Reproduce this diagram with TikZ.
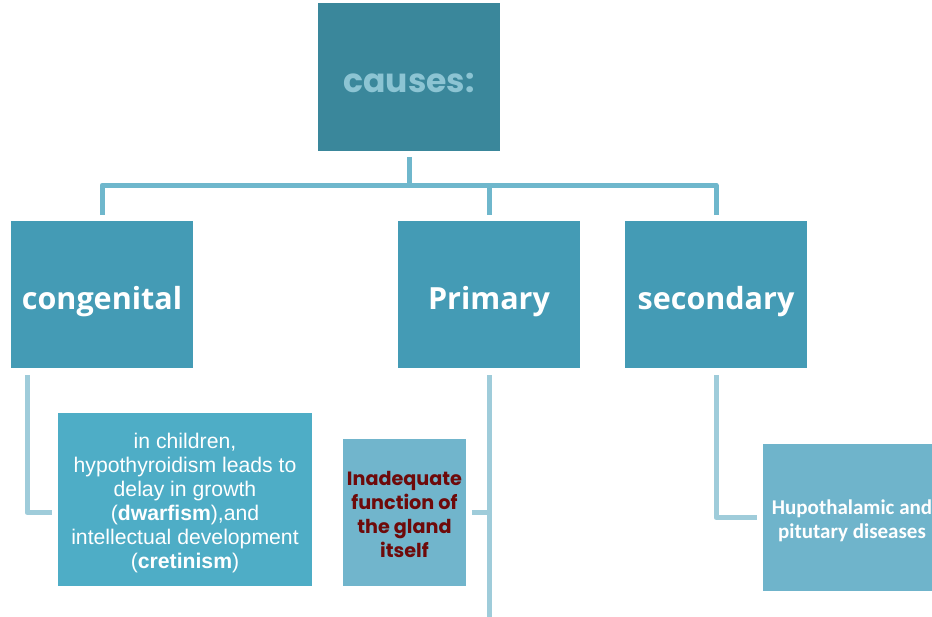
\documentclass[tikz,border=0pt]{standalone}
\usepackage{fontspec}
\setmainfont{Liberation Sans}
\newfontfamily\popf{Poppins}
\newfontfamily\opsf{Open Sans}
\newfontfamily\carf{Carlito}
\definecolor{topc}{HTML}{3A879B}
\definecolor{toptx}{HTML}{8CC4D3}
\definecolor{lvl}{HTML}{449BB5}
\definecolor{conA}{HTML}{6FB7CC}
\definecolor{conB}{HTML}{9FCCDA}
\definecolor{childc}{HTML}{4EADC6}
\definecolor{inadc}{HTML}{71B5CC}
\definecolor{inadtx}{HTML}{6E0A0A}
\definecolor{hupoc}{HTML}{6FB4CB}
\tikzset{
  box/.style={draw=none, inner sep=0pt, align=center},
  lvlbox/.style={box, fill=lvl, minimum width=182pt, minimum height=147pt, text=white, font=\opsf\bfseries\fontsize{30.5}{36}\selectfont, text height=38pt, text depth=8pt},
  conn/.style={draw=conA, line width=5pt, line join=round},
  conn2/.style={draw=conB, line width=5pt, line join=round},
}
\begin{document}
\begin{tikzpicture}[x=1pt,y=-1pt]
\useasboundingbox (0,0) rectangle (932,616);
\clip (0,0) rectangle (932,616);
\node[box, fill=topc, minimum width=182pt, minimum height=148pt, text=toptx, font=\popf\bfseries\fontsize{33}{38}\selectfont, text height=30pt, text depth=0pt] (top) at (409,77) {causes:};
\node[lvlbox] (cong) at (102,294.5) {congenital};
\node[lvlbox] (prim) at (489,294.5) {Primary};
\node[lvlbox] (sec) at (716,294.5) {secondary};
\node[box, fill=childc, minimum width=254pt, minimum height=173pt,
  label={[yshift=-4pt, text=white, align=center, font=\fontsize{21.2}{24}\selectfont]center:in children,\\hypothyroidism leads to\\delay in growth\\(\textbf{dwarfism}),and\\intellectual development\\(\textbf{cretinism})}] (child) at (185,499.5) {};
\node[box, fill=inadc, minimum width=123pt, minimum height=147pt,
  label={[yshift=-2pt, text=inadtx, align=center, font=\popf\bfseries\fontsize{19.2}{24}\selectfont]center:Inadequate\\function of\\the gland\\itself}] (inad) at (404.5,512.5) {};
\node[box, fill=hupoc, minimum width=182pt, minimum height=147pt,
  label={[yshift=-3pt, xshift=-2pt, text=white, align=center, font=\carf\bfseries\fontsize{21}{24}\selectfont]center:Hupothalamic and\\pitutary diseases}] (hupo) at (854,517.5) {};
% top connectors
\draw[conn, shorten <=6pt] (top.south) -- ++(0,34) coordinate (bar);
\draw[conn, shorten >=6pt] (bar) -| (cong.north);
\draw[conn, shorten >=6pt] (bar) -| (sec.north);
\draw[conn, shorten >=6pt] (bar -| prim.north) -- (prim.north);
% lower connectors
\coordinate (pend) at (489,625);
\draw[conn2, shorten <=7pt, shorten >=6pt] ([xshift=-75pt]cong.south) |- ([yshift=-13pt]child.west);
\draw[conn2, shorten <=7pt] (prim.south) -- (pend);
\draw[conn2, shorten <=6pt] (inad.east) -- (inad.east -| prim.south);
\draw[conn2, shorten <=7pt, shorten >=6pt] (sec.south) |- (hupo.west);
\end{tikzpicture}
\end{document}
